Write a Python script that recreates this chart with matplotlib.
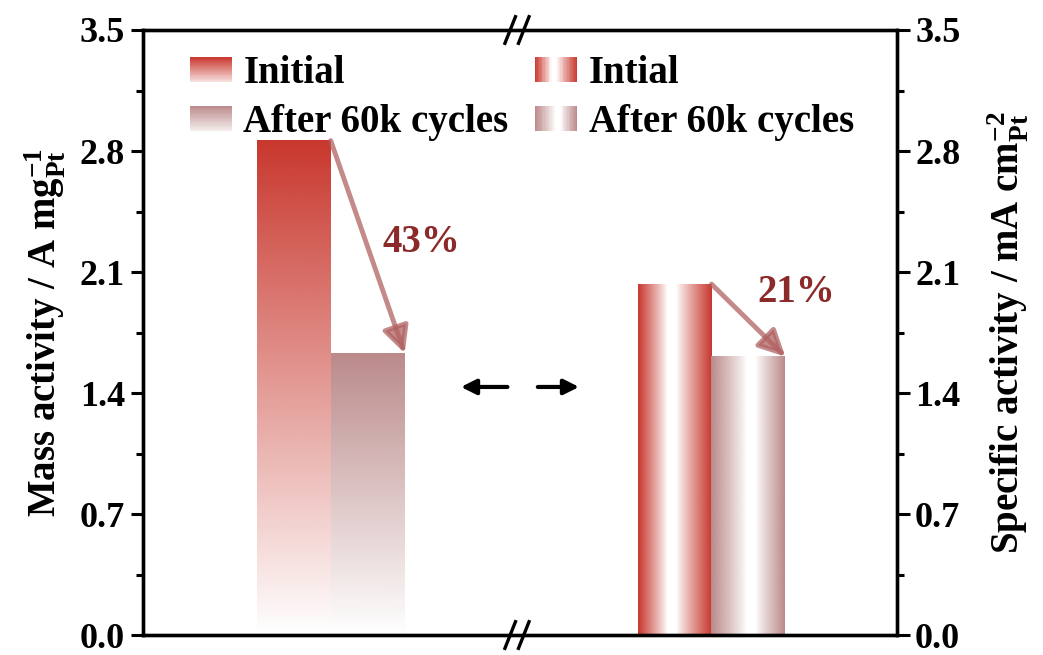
import numpy as np
import matplotlib
matplotlib.use('Agg')
import matplotlib.pyplot as plt
from matplotlib.patches import Patch, Rectangle, FancyArrowPatch
from matplotlib.legend_handler import HandlerBase
from matplotlib.colors import to_rgb

plt.rcParams['font.family'] = ['Liberation Serif', 'DejaVu Serif']
plt.rcParams['font.weight'] = 'bold'
plt.rcParams['axes.labelweight'] = 'bold'
plt.rcParams['mathtext.fontset'] = 'custom'
plt.rcParams['mathtext.rm'] = 'Liberation Serif:bold'
plt.rcParams['mathtext.bf'] = 'Liberation Serif:bold'
plt.rcParams['mathtext.it'] = 'Liberation Serif:bold'

# data
groups = ['Mass activity', 'Specific activity']
initial = [2.86, 2.03]
after = [1.63, 1.61]
drops = ['43%', '21%']
left_labels = ['Initial', 'After 60k cycles']
right_labels = ['Intial', 'After 60k cycles']
yticks = [0.0, 0.7, 1.4, 2.1, 2.8, 3.5]

red = '#c8372d'
rose = '#bb8a8a'
arrow_col = '#b06262'
txt_col = '#8c2a2a'

FS = 28
TFS = 26


def vert_grad(rgb, n=200, a0=1.0, a1=0.0):
    a = np.linspace(a0, a1, n)
    img = np.zeros((n, 1, 4))
    img[:, 0, :3] = rgb
    img[:, 0, 3] = a
    return img


def cyl_alpha(t, c):
    d = np.abs(t - c)
    span = np.where(t < c, c, 1 - c)
    return np.clip((d / span - 0.12) / 0.88, 0, 1) ** 0.9


def horiz_grad(rgb, c, n=200):
    t = np.linspace(0, 1, n)
    img = np.zeros((1, n, 4))
    img[0, :, :3] = rgb
    img[0, :, 3] = cyl_alpha(t, c)
    return img


class GradHandler(HandlerBase):
    def __init__(self, rgb, kind, c=0.45):
        super().__init__()
        self.rgb = np.array(rgb)
        self.kind = kind
        self.c = c

    def create_artists(self, legend, orig_handle, xdescent, ydescent,
                       width, height, fontsize, trans):
        arts = []
        n = 30
        for i in range(n):
            t = (i + 0.5) / n
            if self.kind == 'v':
                a = 1.0 - 0.85 * (1 - t)  # bottom light, top strong
                col = 1 - a * (1 - self.rgb)
                r = Rectangle((-xdescent, -ydescent + i * height / n), width,
                              height / n * 1.05, facecolor=col, edgecolor='none',
                              transform=trans)
            else:
                a = cyl_alpha(np.array([t]), self.c)[0]
                col = 1 - a * (1 - self.rgb)
                r = Rectangle((-xdescent + i * width / n, -ydescent),
                              width / n * 1.05, height, facecolor=col,
                              edgecolor='none', transform=trans)
            arts.append(r)
        return arts


fig = plt.figure(figsize=(10.43, 6.55), dpi=100)
ax = fig.add_axes([0.1371, 0.0305, 0.7229, 0.9237])

w = 0.98
xpos_init = [2.0, 7.05]
xpos_after = [2.98, 8.03]

# mass activity bars: vertical gradients
ax.imshow(vert_grad(to_rgb(red)), extent=(xpos_init[0] - w / 2, xpos_init[0] + w / 2, 0, initial[0]),
          aspect='auto', interpolation='bilinear', zorder=2)
ax.imshow(vert_grad(to_rgb(rose)), extent=(xpos_after[0] - w / 2, xpos_after[0] + w / 2, 0, after[0]),
          aspect='auto', interpolation='bilinear', zorder=2)
# specific activity bars: cylinder-like gradients
ax.imshow(horiz_grad(to_rgb(red), 0.45), extent=(xpos_init[1] - w / 2, xpos_init[1] + w / 2, 0, initial[1]),
          aspect='auto', interpolation='bilinear', zorder=2)
ax.imshow(horiz_grad(to_rgb(rose), 0.55), extent=(xpos_after[1] - w / 2, xpos_after[1] + w / 2, 0, after[1]),
          aspect='auto', interpolation='bilinear', zorder=2)

# drop arrows and percentages
for i in range(2):
    arr = FancyArrowPatch((xpos_init[i] + w / 2, initial[i]), (xpos_after[i] + w / 2, after[i]),
                          arrowstyle='-|>,head_length=16,head_width=8', color=arrow_col,
                          alpha=0.75, lw=3.5, shrinkA=0, shrinkB=0, zorder=4)
    ax.add_patch(arr)
ax.text(3.69, 2.27, drops[0], color=txt_col, fontsize=FS, ha='center', va='center')
ax.text(8.66, 1.98, drops[1], color=txt_col, fontsize=FS, ha='center', va='center')

# axis direction arrows
ax.annotate('', xy=(0.418, 0.41), xytext=(0.487, 0.41), xycoords='axes fraction',
            arrowprops=dict(arrowstyle='-|>,head_length=0.9,head_width=0.45', color='black', lw=3))
ax.annotate('', xy=(0.582, 0.41), xytext=(0.52, 0.41), xycoords='axes fraction',
            arrowprops=dict(arrowstyle='-|>,head_length=0.9,head_width=0.45', color='black', lw=3))

ax.set_xlim(0, 10)
ax.set_ylim(0, 3.5)
ax.set_yticks(yticks)
ax.set_yticks(np.arange(0.35, 3.5, 0.7), minor=True)
ax.tick_params(axis='y', which='major', direction='out', length=9, width=2.2, labelsize=TFS, pad=4)
ax.tick_params(axis='y', which='minor', direction='out', length=5, width=2.2)
ax.tick_params(axis='x', bottom=False, labelbottom=False)
ax.set_yticklabels(['%.1f' % v for v in yticks])
for s in ax.spines.values():
    s.set_linewidth(2.4)
ax.set_ylabel(r'Mass activity / A mg$_{\rm Pt}^{-1}$', fontsize=FS, fontweight='bold', labelpad=8)

ax2 = ax.twinx()
ax2.set_ylim(0, 3.5)
ax2.set_yticks(yticks)
ax2.set_yticks(np.arange(0.35, 3.5, 0.7), minor=True)
ax2.set_yticklabels(['%.1f' % v for v in yticks])
ax2.tick_params(axis='y', which='major', direction='out', length=9, width=2.2, labelsize=TFS, pad=4)
ax2.tick_params(axis='y', which='minor', direction='out', length=5, width=2.2)
for s in ax2.spines.values():
    s.set_linewidth(2.4)
ax2.set_ylabel(r'Specific activity / mA cm$_{\rm Pt}^{-2}$', fontsize=FS, fontweight='bold',
               rotation=90, labelpad=18)

# break marks on top and bottom spines
for yb in (0.0, 1.0):
    for xb in (0.487, 0.505):
        ax.plot([xb - 0.007, xb + 0.007], [yb - 0.022, yb + 0.022], transform=ax.transAxes,
                color='black', lw=2.4, clip_on=False, zorder=10)

# legends
h1, h2 = Patch(), Patch()
leg1 = ax.legend([h1, h2], left_labels, loc='upper left', bbox_to_anchor=(0.062, 0.958),
                 frameon=False, fontsize=FS, borderpad=0, borderaxespad=0,
                 handlelength=1.08, handleheight=0.6, handletextpad=0.3, labelspacing=0.3,
                 handler_map={h1: GradHandler(to_rgb(red), 'v'), h2: GradHandler(to_rgb(rose), 'v')})
ax.add_artist(leg1)
h3, h4 = Patch(), Patch()
ax.legend([h3, h4], right_labels, loc='upper left', bbox_to_anchor=(0.52, 0.958),
          frameon=False, fontsize=FS, borderpad=0, borderaxespad=0,
          handlelength=1.08, handleheight=0.6, handletextpad=0.3, labelspacing=0.3,
          handler_map={h3: GradHandler(to_rgb(red), 'h', 0.45), h4: GradHandler(to_rgb(rose), 'h', 0.55)})

fig.savefig('out.png', dpi=100)
